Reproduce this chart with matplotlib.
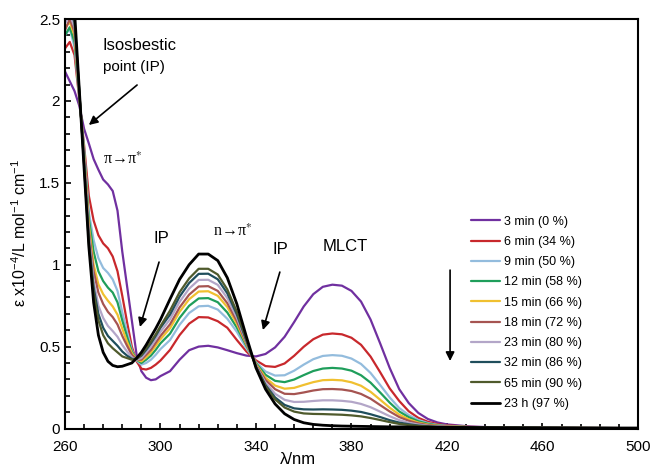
import matplotlib
matplotlib.use("Agg")
import matplotlib.pyplot as plt
from matplotlib.ticker import FuncFormatter

plt.rcParams['font.family'] = ['Liberation Sans', 'DejaVu Sans']
plt.rcParams['mathtext.fontset'] = 'custom'
plt.rcParams['mathtext.rm'] = 'Liberation Sans'
plt.rcParams['mathtext.it'] = 'Liberation Sans:italic'

# wavelength grid (nm)
wavelength = [260, 262, 264, 266, 268, 270, 272, 274, 276, 278,
              280, 282, 284, 286, 288, 290, 292, 294, 296, 298,
              300, 304, 308, 312, 316, 320, 324, 328, 332, 336,
              340, 344, 348, 352, 356, 360, 364, 368, 372, 376,
              380, 384, 388, 392, 396, 400, 404, 408, 412, 416,
              420, 430, 440, 460, 480, 500]

# epsilon x 10^-4 for each irradiation time
eps_3min = [2.18, 2.12, 2.06, 1.97, 1.83, 1.74, 1.645, 1.58, 1.52, 1.49,
            1.45, 1.33, 1.08, 0.87, 0.66, 0.45, 0.35, 0.31, 0.295, 0.30,
            0.32, 0.35, 0.42, 0.478, 0.50, 0.505, 0.495, 0.478, 0.46, 0.445,
            0.44, 0.455, 0.495, 0.56, 0.65, 0.745, 0.82, 0.865, 0.878, 0.872,
            0.84, 0.775, 0.665, 0.52, 0.37, 0.24, 0.155, 0.095, 0.058, 0.037,
            0.025, 0.012, 0.007, 0.004, 0.003, 0.002]
eps_6min = [2.32, 2.36, 2.28, 2.01, 1.73, 1.42, 1.27, 1.18, 1.13, 1.10,
            1.05, 0.96, 0.81, 0.65, 0.50, 0.41, 0.365, 0.36, 0.37, 0.39,
            0.415, 0.48, 0.57, 0.64, 0.68, 0.678, 0.655, 0.615, 0.54, 0.47,
            0.416, 0.381, 0.376, 0.397, 0.444, 0.499, 0.545, 0.573, 0.58, 0.575,
            0.554, 0.511, 0.439, 0.344, 0.245, 0.168, 0.105, 0.065, 0.041, 0.027,
            0.019, 0.010, 0.006, 0.004, 0.003, 0.002]
eps_9min = [2.40, 2.44, 2.33, 2.02, 1.71, 1.32, 1.15, 1.04, 0.98, 0.95,
            0.91, 0.84, 0.71, 0.59, 0.48, 0.415, 0.39, 0.40, 0.42, 0.45,
            0.485, 0.54, 0.633, 0.705, 0.746, 0.749, 0.726, 0.67, 0.59, 0.49,
            0.405, 0.348, 0.323, 0.325, 0.353, 0.39, 0.423, 0.443, 0.448, 0.444,
            0.427, 0.394, 0.339, 0.266, 0.19, 0.125, 0.082, 0.052, 0.033, 0.022,
            0.016, 0.009, 0.006, 0.004, 0.003, 0.002]
eps_12min = [2.40, 2.45, 2.36, 2.03, 1.69, 1.28, 1.08, 0.96, 0.90, 0.86,
             0.83, 0.77, 0.66, 0.56, 0.47, 0.42, 0.40, 0.42, 0.445, 0.48,
             0.52, 0.579, 0.675, 0.749, 0.794, 0.796, 0.771, 0.708, 0.616, 0.505,
             0.399, 0.328, 0.291, 0.283, 0.299, 0.326, 0.351, 0.366, 0.37, 0.366,
             0.353, 0.325, 0.28, 0.22, 0.158, 0.104, 0.069, 0.044, 0.029, 0.019,
             0.014, 0.008, 0.006, 0.004, 0.003, 0.002]
eps_15min = [2.45, 2.48, 2.40, 2.04, 1.67, 1.24, 1.00, 0.88, 0.82, 0.78,
             0.745, 0.695, 0.61, 0.53, 0.46, 0.42, 0.41, 0.435, 0.465, 0.505,
             0.545, 0.612, 0.712, 0.789, 0.836, 0.838, 0.81, 0.741, 0.639, 0.513,
             0.393, 0.31, 0.262, 0.243, 0.248, 0.266, 0.283, 0.295, 0.297, 0.294,
             0.282, 0.261, 0.224, 0.176, 0.127, 0.085, 0.056, 0.036, 0.024, 0.017,
             0.013, 0.008, 0.006, 0.004, 0.003, 0.002]
eps_18min = [2.43, 2.50, 2.42, 2.04, 1.66, 1.21, 0.96, 0.83, 0.76, 0.712,
             0.68, 0.635, 0.565, 0.505, 0.45, 0.42, 0.42, 0.45, 0.48, 0.523,
             0.565, 0.636, 0.739, 0.817, 0.867, 0.869, 0.84, 0.765, 0.655, 0.52,
             0.388, 0.296, 0.24, 0.212, 0.21, 0.22, 0.232, 0.24, 0.241, 0.238,
             0.229, 0.211, 0.182, 0.143, 0.104, 0.07, 0.047, 0.031, 0.021, 0.015,
             0.012, 0.008, 0.006, 0.004, 0.003, 0.002]
eps_23min = [2.47, 2.53, 2.45, 2.05, 1.64, 1.18, 0.90, 0.75, 0.675, 0.626,
             0.595, 0.56, 0.51, 0.47, 0.435, 0.42, 0.43, 0.465, 0.50, 0.545,
             0.59, 0.667, 0.773, 0.854, 0.907, 0.908, 0.877, 0.796, 0.676, 0.528,
             0.383, 0.279, 0.212, 0.175, 0.162, 0.163, 0.168, 0.172, 0.172, 0.169,
             0.163, 0.15, 0.13, 0.103, 0.075, 0.051, 0.035, 0.024, 0.017, 0.012,
             0.010, 0.007, 0.005, 0.004, 0.003, 0.002]
eps_32min = [2.52, 2.56, 2.48, 2.06, 1.62, 1.15, 0.86, 0.70, 0.615, 0.565,
             0.535, 0.505, 0.47, 0.445, 0.425, 0.425, 0.445, 0.48, 0.52, 0.565,
             0.615, 0.695, 0.805, 0.888, 0.944, 0.945, 0.911, 0.825, 0.696, 0.535,
             0.378, 0.265, 0.19, 0.144, 0.123, 0.117, 0.116, 0.117, 0.116, 0.114,
             0.109, 0.101, 0.087, 0.07, 0.051, 0.036, 0.026, 0.018, 0.014, 0.010,
             0.009, 0.007, 0.005, 0.004, 0.003, 0.002]
eps_65min = [2.55, 2.58, 2.50, 2.06, 1.61, 1.13, 0.83, 0.66, 0.57, 0.52,
             0.49, 0.465, 0.44, 0.43, 0.42, 0.425, 0.45, 0.49, 0.53, 0.575,
             0.625, 0.72, 0.832, 0.916, 0.975, 0.975, 0.94, 0.849, 0.712, 0.542,
             0.376, 0.257, 0.178, 0.128, 0.103, 0.092, 0.089, 0.088, 0.086, 0.084,
             0.08, 0.074, 0.064, 0.052, 0.039, 0.028, 0.021, 0.015, 0.012, 0.009,
             0.008, 0.007, 0.005, 0.004, 0.003, 0.002]
eps_23h = [2.62, 2.62, 2.55, 2.07, 1.59, 1.11, 0.77, 0.57, 0.465, 0.41,
           0.385, 0.377, 0.38, 0.39, 0.40, 0.43, 0.465, 0.51, 0.56, 0.61,
           0.665, 0.79, 0.91, 1.0, 1.065, 1.065, 1.025, 0.92, 0.76, 0.56,
           0.37, 0.24, 0.15, 0.09, 0.055, 0.035, 0.025, 0.02, 0.017, 0.015,
           0.014, 0.013, 0.012, 0.011, 0.010, 0.010, 0.009, 0.008, 0.008, 0.007,
           0.007, 0.006, 0.005, 0.004, 0.003, 0.003]

labels = ['3 min (0 %)', '6 min (34 %)', '9 min (50 %)', '12 min (58 %)',
          '15 min (66 %)', '18 min (72 %)', '23 min (80 %)', '32 min (86 %)',
          '65 min (90 %)', '23 h (97 %)']
colors = ['#7030A0', '#C8282C', '#93BCDD', '#1F9E5B', '#F0C030',
          '#A65451', '#B3A6C8', '#1F4E5C', '#4F5A2C', '#000000']
spectra = [eps_3min, eps_6min, eps_9min, eps_12min, eps_15min,
           eps_18min, eps_23min, eps_32min, eps_65min, eps_23h]

x_major = [260, 300, 340, 380, 420, 460, 500]

fig = plt.figure(figsize=(6.51, 4.68), dpi=100)
ax = fig.add_axes([0.0998, 0.0844, 0.8802, 0.875])

for spec, col, lab in zip(spectra, colors, labels):
    lw = 2.0 if col == '#000000' else 1.6
    ax.plot(wavelength, spec, color=col, lw=lw, label=lab, solid_capstyle='round')

ax.set_xlim(260, 500)
ax.set_ylim(0, 2.5)
ax.set_xticks(x_major)
ax.set_xticks(range(260, 501, 8), minor=True)
ax.set_yticks([0, 0.5, 1, 1.5, 2, 2.5])
ax.set_yticks([i / 10 for i in range(26)], minor=True)
ax.yaxis.set_major_formatter(FuncFormatter(lambda v, p: f"{v:g}"))
ax.tick_params(which='both', direction='in', top=False, right=False,
               labelsize=11, width=1.2)
ax.tick_params(which='major', length=4)
ax.tick_params(which='minor', length=3.5)
ax.tick_params(axis='x', pad=8)
for s in ax.spines.values():
    s.set_linewidth(1.5)

fig.text(20 / 651, 1 - 233 / 468, r'ε x10$^{-4}$/L mol$^{-1}$ cm$^{-1}$',
         rotation=90, ha='center', va='center', fontsize=11.5)
fig.text(298 / 651, 1 - 460 / 468, 'λ/nm', ha='center', va='center', fontsize=12)

leg = ax.legend(loc='upper left', bbox_to_anchor=(0.70, 0.532), frameon=False,
                fontsize=9, handlelength=2.3, handletextpad=0.3,
                labelspacing=0.66, borderaxespad=0)

serif = ['Liberation Serif', 'DejaVu Serif']
arrow = dict(arrowstyle='-|>', color='black', lw=1.2, mutation_scale=13,
             shrinkA=0, shrinkB=0)
ax.text(275.9, 2.34, 'Isosbestic', fontsize=12, va='center')
ax.text(275.9, 2.207, 'point (IP)', fontsize=11, va='center')
ax.annotate('', xy=(270.0, 1.853), xytext=(290.2, 2.097), arrowprops=arrow)
ax.text(275.9, 1.64, 'π→π$^{*}$', fontsize=11.5, va='center', family=serif,
        math_fontfamily='stix')
ax.text(296.9, 1.157, 'IP', fontsize=12, va='center')
ax.annotate('', xy=(291.4, 0.62), xytext=(299.4, 1.016), arrowprops=arrow)
ax.text(322.0, 1.20, 'n→π$^{*}$', fontsize=11.5, va='center', family=serif,
        math_fontfamily='stix')
ax.text(347.1, 1.09, 'IP', fontsize=12, va='center')
ax.annotate('', xy=(342.9, 0.601), xytext=(350.0, 0.955), arrowprops=arrow)
ax.text(368.1, 1.114, 'MLCT', fontsize=12, va='center')
ax.annotate('', xy=(421.3, 0.412), xytext=(421.3, 0.967), arrowprops=arrow)

fig.savefig('out.png', dpi=100)
